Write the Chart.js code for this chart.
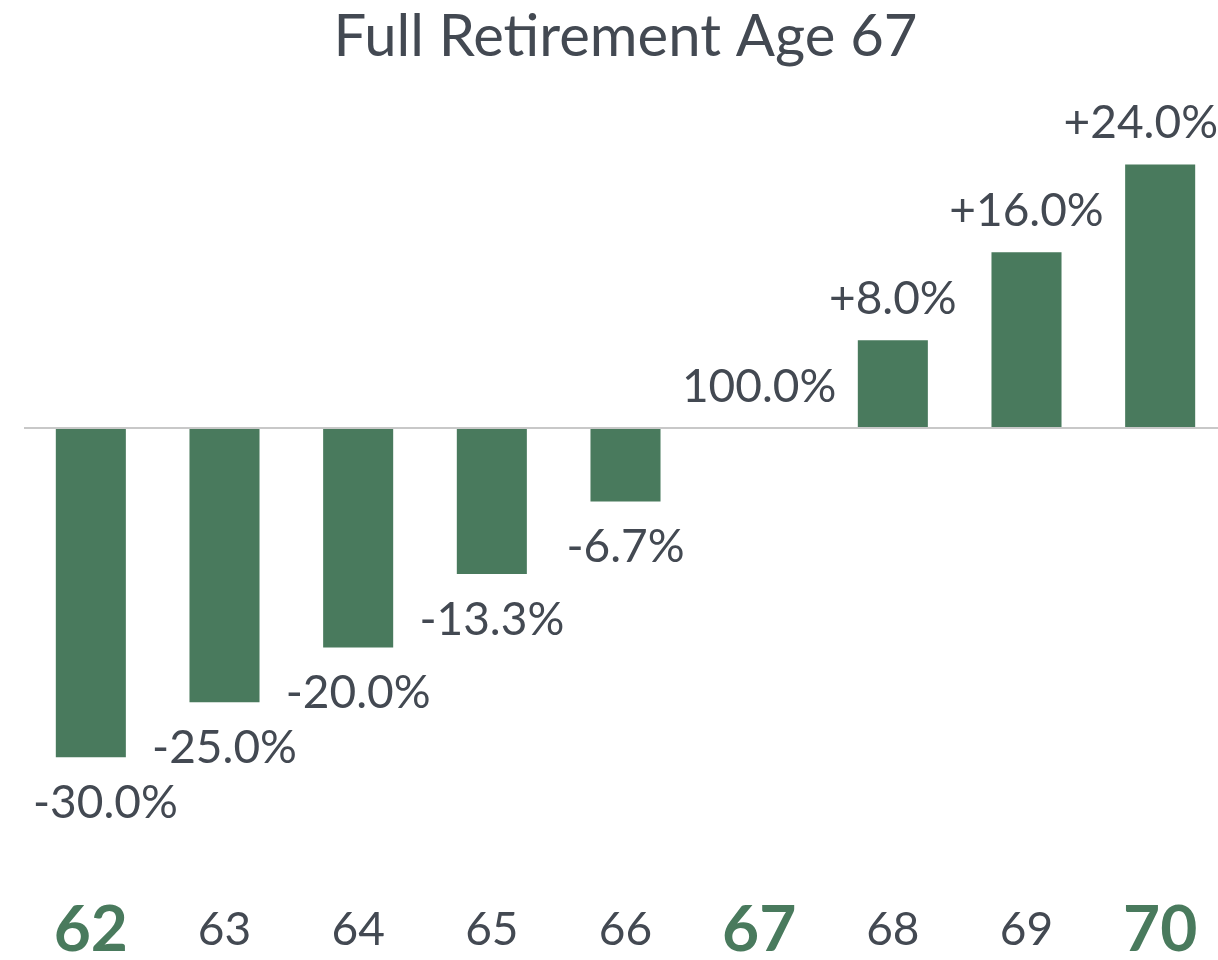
<!DOCTYPE html>
<html>
<head>
<meta charset="utf-8">
<script src="https://cdn.jsdelivr.net/npm/chart.js@4/dist/chart.umd.min.js"></script>
<style>
  html, body { margin: 0; padding: 0; background: #fff; overflow: hidden; }
  #wrap { width: 1218px; height: 960px; overflow: hidden; }
</style>
</head>
<body>
<div id="wrap"><canvas id="chart" width="1227" height="960"></canvas></div>
<script>
// ===== DATA =====
const ages = ["62", "63", "64", "65", "66", "67", "68", "69", "70"];
const changes = [-30, -25, -20, -13.3, -6.7, 0, 8, 16, 24];
const valueLabels = ["-30.0%", "-25.0%", "-20.0%", "-13.3%", "-6.7%", "100.0%", "+8.0%", "+16.0%", "+24.0%"];
const keyAges = ["62", "67", "70"];

const GREEN = "#497a5d";
const TEXT = "#434952";
const FONT = "Lato";

// ===== VALUE LABELS ON BARS =====
const barLabels = {
  id: "barLabels",
  afterDatasetsDraw(chart) {
    const { ctx } = chart;
    const meta = chart.getDatasetMeta(0);
    ctx.save();
    ctx.font = `46px ${FONT}`;
    ctx.fillStyle = TEXT;
    ctx.textAlign = "center";
    ctx.textBaseline = "middle";
    meta.data.forEach((bar, i) => {
      const text = valueLabels[i];
      const w = ctx.measureText(text).width;
      let x = bar.x;
      x = Math.min(x, 1218 - w / 2);
      x = Math.max(x, 33 + w / 2);
      const y = changes[i] >= 0 ? bar.y - 41 : bar.y + 46;
      ctx.fillText(text, x, y);
    });
    ctx.restore();
  }
};

// ===== CHART =====
const ctx = document.getElementById("chart").getContext("2d");
new Chart(ctx, {
  type: "bar",
  data: {
    labels: ages,
    datasets: [{
      data: changes,
      backgroundColor: GREEN,
      borderWidth: 0,
      barPercentage: 0.524,
      categoryPercentage: 1,
    }],
  },
  options: {
    responsive: false,
    animation: false,
    layout: { padding: { left: 24, right: 0, top: 0, bottom: 0 } },
    scales: {
      x: {
        // tick marks are invisible, they only push labels down
        grid: { display: true, drawOnChartArea: false, drawTicks: true, tickLength: 77, color: "rgba(0,0,0,0)" },
        border: { display: false },
        ticks: {
          padding: 0,
          maxRotation: 0,
          color: (c) => keyAges.includes(ages[c.index]) ? GREEN : TEXT,
          font: (c) => keyAges.includes(ages[c.index])
            ? { family: FONT, size: 64, weight: "bold", lineHeight: "60px" }
            : { family: FONT, size: 46, lineHeight: "60px" },
        },
      },
      y: {
        min: -36,
        max: 26,
        ticks: { display: false, stepSize: 1 },
        border: { display: false },
        grid: {
          drawTicks: false,
          lineWidth: 2,
          color: (c) => c.tick && c.tick.value === 0 ? "#c8c8c8" : "rgba(0,0,0,0)",
        },
      },
    },
    plugins: {
      legend: { display: false },
      tooltip: { enabled: false },
      title: {
        display: true,
        text: "Full Retirement Age 67",
        color: TEXT,
        font: { family: FONT, size: 58, weight: "normal", lineHeight: 1.2 },
        padding: { top: 2, bottom: 71 },
      },
    },
  },
  plugins: [barLabels],
});
</script>
</body>
</html>
